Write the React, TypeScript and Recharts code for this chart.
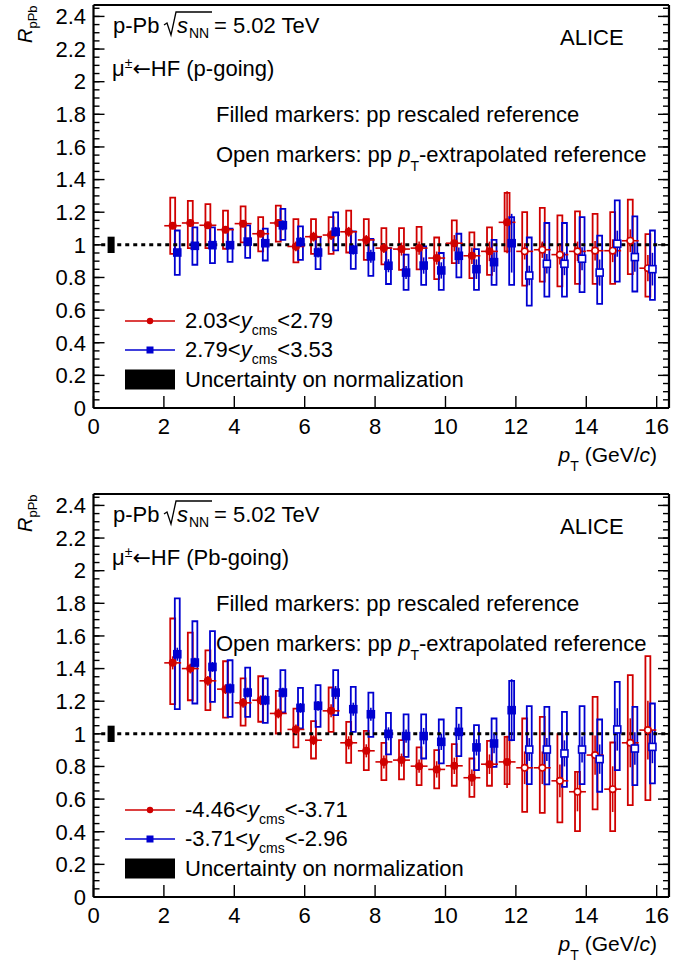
import React from "react";
import {
  ComposedChart,
  ErrorBar,
  ReferenceArea,
  ReferenceLine,
  Scatter,
  XAxis,
  YAxis,
} from "recharts";

const FONT = '"Liberation Sans", Arial, Helvetica, sans-serif';
const RED = "#d00000";
const BLUE = "#0000d0";

// pT bin centres (GeV/c); bins are 0.5 wide
const PT_BINS = [
  2.25, 2.75, 3.25, 3.75, 4.25, 4.75, 5.25, 5.75, 6.25, 6.75, 7.25, 7.75, 8.25,
  8.75, 9.25, 9.75, 10.25, 10.75, 11.25, 11.75, 12.25, 12.75, 13.25, 13.75,
  14.25, 14.75, 15.25, 15.75,
];
const BIN_HALF = 0.24;
const EXTRAP_FROM = 12; // above this the pp reference is pT-extrapolated
const NORM_PT = 0.5;
const NORM_BAND = [0.95, 1.05];

// p-going, 2.03 < y_cms < 2.79
const PG_LOW_R = [1.117, 1.134, 1.12, 1.093, 1.13, 1.068, 1.134, 0.99, 1.05, 1.06, 1.08, 1.03, 0.98, 0.974, 0.98, 0.919, 1.01, 0.933, 0.96, 1.138, 0.96, 0.97, 0.94, 0.96, 0.964, 0.964, 1.025, 0.857];
const PG_LOW_SYS_LO = [0.945, 0.98, 0.98, 0.976, 1.015, 0.96, 1.02, 0.892, 0.945, 0.945, 0.953, 0.908, 0.88, 0.847, 0.85, 0.79, 0.888, 0.796, 0.816, 0.96, 0.75, 0.775, 0.745, 0.761, 0.761, 0.761, 0.82, 0.683];
const PG_LOW_SYS_HI = [1.29, 1.27, 1.25, 1.21, 1.236, 1.17, 1.24, 1.158, 1.158, 1.17, 1.21, 1.158, 1.103, 1.103, 1.11, 1.045, 1.15, 1.076, 1.107, 1.318, 1.2, 1.226, 1.18, 1.205, 1.19, 1.2, 1.277, 1.066];
const PG_LOW_STAT = [0.02, 0.02, 0.02, 0.02, 0.02, 0.02, 0.02, 0.03, 0.03, 0.03, 0.03, 0.03, 0.03, 0.04, 0.04, 0.04, 0.05, 0.05, 0.06, 0.19, 0.05, 0.05, 0.06, 0.06, 0.06, 0.07, 0.07, 0.08];

// p-going, 2.79 < y_cms < 3.53
const PG_HIGH_R = [0.953, 0.994, 0.998, 0.998, 1.02, 1.01, 1.12, 1.017, 0.953, 1.08, 0.97, 0.93, 0.872, 0.83, 0.873, 0.843, 0.933, 0.851, 0.894, 1.01, 0.812, 0.884, 0.884, 0.915, 0.83, 1.007, 0.925, 0.851];
const PG_HIGH_SYS_LO = [0.816, 0.878, 0.888, 0.896, 0.92, 0.904, 1.03, 0.908, 0.851, 0.966, 0.853, 0.81, 0.76, 0.724, 0.755, 0.724, 0.8, 0.724, 0.755, 0.755, 0.628, 0.683, 0.683, 0.71, 0.638, 0.775, 0.714, 0.663];
const PG_HIGH_SYS_HI = [1.088, 1.107, 1.107, 1.099, 1.119, 1.099, 1.22, 1.113, 1.048, 1.199, 1.082, 1.036, 0.98, 0.94, 0.99, 0.95, 1.068, 0.974, 1.031, 1.17, 1.045, 1.134, 1.134, 1.17, 1.056, 1.273, 1.174, 1.088];
const PG_HIGH_STAT = [0.02, 0.02, 0.02, 0.02, 0.02, 0.02, 0.03, 0.03, 0.03, 0.03, 0.03, 0.04, 0.04, 0.04, 0.05, 0.05, 0.05, 0.06, 0.06, 0.18, 0.06, 0.06, 0.07, 0.07, 0.08, 0.08, 0.09, 0.1];

// Pb-going, -4.46 < y_cms < -3.71
const PB_LOW_R = [1.435, 1.4, 1.325, 1.274, 1.19, 1.206, 1.125, 1.027, 0.961, 1.141, 0.945, 0.896, 0.828, 0.839, 0.802, 0.782, 0.804, 0.731, 0.814, 0.828, 0.792, 0.792, 0.712, 0.645, 0.87, 0.661, 0.945, 1.023];
const PB_LOW_SYS_LO = [1.182, 1.206, 1.145, 1.1, 1.05, 1.074, 1.002, 0.917, 0.849, 1.012, 0.822, 0.778, 0.716, 0.721, 0.686, 0.666, 0.682, 0.614, 0.682, 0.692, 0.522, 0.516, 0.457, 0.404, 0.537, 0.404, 0.563, 0.594];
const PB_LOW_SYS_HI = [1.707, 1.62, 1.512, 1.445, 1.34, 1.353, 1.263, 1.155, 1.078, 1.284, 1.073, 1.018, 0.945, 0.961, 0.917, 0.9, 0.937, 0.849, 0.957, 0.982, 1.094, 1.104, 0.998, 0.767, 1.227, 0.947, 1.36, 1.476];
const PB_LOW_STAT = [0.04, 0.03, 0.03, 0.03, 0.03, 0.03, 0.03, 0.03, 0.03, 0.04, 0.04, 0.04, 0.04, 0.04, 0.04, 0.05, 0.05, 0.05, 0.06, 0.16, 0.1, 0.1, 0.1, 0.12, 0.12, 0.14, 0.15, 0.18];

// Pb-going, -3.71 < y_cms < -2.96
const PB_HIGH_R = [1.488, 1.437, 1.41, 1.278, 1.253, 1.206, 1.253, 1.159, 1.172, 1.253, 1.151, 1.12, 1.0, 0.986, 0.986, 0.951, 1.012, 0.917, 0.941, 1.145, 0.904, 0.904, 0.88, 0.904, 0.845, 1.027, 0.91, 0.92];
const PB_HIGH_SYS_LO = [1.151, 1.186, 1.196, 1.104, 1.104, 1.067, 1.131, 1.033, 1.043, 1.115, 1.012, 0.982, 0.874, 0.859, 0.849, 0.819, 0.863, 0.778, 0.798, 0.961, 0.692, 0.69, 0.675, 0.692, 0.645, 0.778, 0.686, 0.696];
const PB_HIGH_SYS_HI = [1.83, 1.69, 1.63, 1.451, 1.406, 1.34, 1.39, 1.282, 1.298, 1.39, 1.288, 1.253, 1.128, 1.119, 1.119, 1.088, 1.159, 1.053, 1.094, 1.325, 1.17, 1.165, 1.135, 1.17, 1.088, 1.318, 1.165, 1.186];
const PB_HIGH_STAT = [0.04, 0.03, 0.03, 0.03, 0.03, 0.03, 0.03, 0.03, 0.03, 0.04, 0.04, 0.04, 0.04, 0.04, 0.05, 0.05, 0.05, 0.05, 0.06, 0.19, 0.07, 0.07, 0.08, 0.08, 0.09, 0.13, 0.1, 0.1];

const X_MAX = 16.35;
const Y_MAX = 2.47;
const X_TICKS = [0, 2, 4, 6, 8, 10, 12, 14, 16];
const Y_TICKS = [0, 0.2, 0.4, 0.6, 0.8, 1, 1.2, 1.4, 1.6, 1.8, 2, 2.2, 2.4];
const X_MINOR = Array.from({ length: 33 }, (_, i) => i * 0.5);
const Y_MINOR = Array.from({ length: 50 }, (_, i) => Math.round(i * 5) / 100);

const HIGH_SHIFT = 0.13; // second rapidity interval drawn slightly to the right
const BOX_HALF = 0.07;
const THIN = 0.001; // axes take no room: the frame is placed by the chart margins

type Row = {
  x: number;
  y: number;
  lo: number;
  hi: number;
  stat: number;
  xe: number;
  open: boolean;
};

function buildRows(r: number[], lo: number[], hi: number[], stat: number[], shift: number): Row[] {
  return PT_BINS.map((pt, i) => ({
    x: pt + shift,
    y: r[i],
    lo: lo[i],
    hi: hi[i],
    stat: stat[i],
    xe: BIN_HALF,
    open: pt > EXTRAP_FROM,
  }));
}

const P_GOING_LOW = buildRows(PG_LOW_R, PG_LOW_SYS_LO, PG_LOW_SYS_HI, PG_LOW_STAT, 0);
const P_GOING_HIGH = buildRows(PG_HIGH_R, PG_HIGH_SYS_LO, PG_HIGH_SYS_HI, PG_HIGH_STAT, HIGH_SHIFT);
const PB_GOING_LOW = buildRows(PB_LOW_R, PB_LOW_SYS_LO, PB_LOW_SYS_HI, PB_LOW_STAT, 0);
const PB_GOING_HIGH = buildRows(PB_HIGH_R, PB_HIGH_SYS_LO, PB_HIGH_SYS_HI, PB_HIGH_STAT, HIGH_SHIFT);

const TICK_LINE = { stroke: "#000", strokeWidth: 1.4 };
const AXIS_LINE = { stroke: "#000", strokeWidth: 2.2 };
const TICK_TEXT = { fill: "#000", fontSize: 22, fontFamily: FONT };
const NoLabel = () => <g />;

const circleShape = (props: any) => {
  const { cx, cy, payload } = props;
  return (
    <circle cx={cx} cy={cy} r={3.2} fill={payload.open ? "#fff" : RED} stroke={RED} strokeWidth={1.6} />
  );
};

const squareShape = (props: any) => {
  const { cx, cy, payload } = props;
  return (
    <rect x={cx - 3.5} y={cy - 3.5} width={7} height={7} fill={payload.open ? "#fff" : BLUE} stroke={BLUE} strokeWidth={1.6} />
  );
};

type PanelProps = {
  top: number;
  height: number;
  side: string;
  low: Row[];
  high: Row[];
  lowLabel: [string, string];
  highLabel: [string, string];
};

function Panel({ top, height, side, low, high, lowLabel, highLabel }: PanelProps) {
  const box = (d: Row, i: number, color: string, key: string) => (
    <ReferenceArea
      key={`${key}${i}`}
      xAxisId="x"
      yAxisId="y"
      x1={d.x - BOX_HALF}
      x2={d.x + BOX_HALF}
      y1={d.lo}
      y2={d.hi}
      fill="none"
      fillOpacity={0}
      stroke={color}
      strokeWidth={1.8}
      ifOverflow="visible"
    />
  );
  return (
    <div style={{ position: "absolute", left: 0, top, width: 695, height }}>
      <ComposedChart width={695} height={height} margin={{ top: 5, right: 26, bottom: height - 408, left: 93.5 }}>
        <XAxis xAxisId="x" type="number" dataKey="x" domain={[0, X_MAX]} allowDataOverflow ticks={X_TICKS} interval={0} height={THIN} tickSize={-12} tickMargin={22} axisLine={AXIS_LINE} tickLine={TICK_LINE} tick={TICK_TEXT} />
        <XAxis xAxisId="xm" type="number" domain={[0, X_MAX]} allowDataOverflow ticks={X_MINOR} interval={0} height={THIN} tickSize={-6} axisLine={false} tickLine={TICK_LINE} tick={NoLabel} />
        <XAxis xAxisId="xt" orientation="top" type="number" domain={[0, X_MAX]} allowDataOverflow ticks={X_TICKS} interval={0} height={THIN} tickSize={-12} axisLine={AXIS_LINE} tickLine={TICK_LINE} tick={NoLabel} />
        <XAxis xAxisId="xtm" orientation="top" type="number" domain={[0, X_MAX]} allowDataOverflow ticks={X_MINOR} interval={0} height={THIN} tickSize={-6} axisLine={false} tickLine={TICK_LINE} tick={NoLabel} />
        <YAxis yAxisId="y" type="number" dataKey="y" domain={[0, Y_MAX]} allowDataOverflow ticks={Y_TICKS} interval={0} width={THIN} tickSize={-11} tickMargin={18.5} axisLine={AXIS_LINE} tickLine={TICK_LINE} tick={TICK_TEXT} />
        <YAxis yAxisId="ym" type="number" domain={[0, Y_MAX]} allowDataOverflow ticks={Y_MINOR} interval={0} width={THIN} tickSize={-6} axisLine={false} tickLine={TICK_LINE} tick={NoLabel} />
        <YAxis yAxisId="yr" orientation="right" type="number" domain={[0, Y_MAX]} allowDataOverflow ticks={Y_TICKS} interval={0} width={THIN} tickSize={-11} axisLine={AXIS_LINE} tickLine={TICK_LINE} tick={NoLabel} />
        <YAxis yAxisId="yrm" orientation="right" type="number" domain={[0, Y_MAX]} allowDataOverflow ticks={Y_MINOR} interval={0} width={THIN} tickSize={-6} axisLine={false} tickLine={TICK_LINE} tick={NoLabel} />

        {low.map((d, i) => box(d, i, RED, "bl"))}
        {high.map((d, i) => box(d, i, BLUE, "bh"))}

        <ReferenceArea xAxisId="x" yAxisId="y" x1={NORM_PT - 0.1} x2={NORM_PT + 0.1} y1={NORM_BAND[0]} y2={NORM_BAND[1]} fill="#000" fillOpacity={1} stroke="none" ifOverflow="visible" />
        <ReferenceLine xAxisId="x" yAxisId="y" segment={[{ x: 0.22, y: 1 }, { x: X_MAX, y: 1 }]} stroke="#000" strokeWidth={3} strokeDasharray="4 4" />

        <Scatter xAxisId="x" yAxisId="y" data={low} shape={circleShape} isAnimationActive={false}>
          <ErrorBar dataKey="stat" direction="y" width={0} stroke={RED} strokeWidth={1.6} isAnimationActive={false} />
          <ErrorBar dataKey="xe" direction="x" width={0} stroke={RED} strokeWidth={1.6} isAnimationActive={false} />
        </Scatter>
        <Scatter xAxisId="x" yAxisId="y" data={high} shape={squareShape} isAnimationActive={false}>
          <ErrorBar dataKey="stat" direction="y" width={0} stroke={BLUE} strokeWidth={1.6} isAnimationActive={false} />
        </Scatter>
      </ComposedChart>

      <svg width={695} height={height} style={{ position: "absolute", left: 0, top: 0, pointerEvents: "none" }} fontFamily={FONT} fill="#000">
        {/* y title */}
        <text transform="translate(32, 43) rotate(-90)" fontSize={20} fontStyle="italic">
          R<tspan fontSize={13} fontStyle="normal" dy={5}>pPb</tspan>
        </text>
        {/* x title */}
        <text x={657} y={462} fontSize={21} textAnchor="end">
          <tspan fontStyle="italic">p</tspan>
          <tspan fontSize={14} dy={9}>T</tspan>
          <tspan dy={-9}> (GeV/</tspan>
          <tspan fontStyle="italic">c</tspan>
          <tspan>)</tspan>
        </text>

        <text x={113} y={33} fontSize={22}>p-Pb</text>
        <path d="M164,25 L167,23 L171,35 L176,12 L212,12" fill="none" stroke="#000" strokeWidth={1.3} />
        <text x={177} y={33} fontSize={22} fontStyle="italic">s</text>
        <text x={189} y={38} fontSize={14}>NN</text>
        <text x={214} y={33} fontSize={22}>= 5.02 TeV</text>
        <text x={560} y={45} fontSize={22}>ALICE</text>
        <text x={112} y={76} fontSize={22}>
          μ<tspan fontSize={14} dy={-8}>±</tspan>
          <tspan dy={8} fontFamily='"DejaVu Sans", sans-serif'>←</tspan>
          <tspan>HF ({side}-going)</tspan>
        </text>
        <text x={216} y={122} fontSize={22}>Filled markers: pp rescaled reference</text>
        <text x={216} y={162} fontSize={22}>
          Open markers: pp <tspan fontStyle="italic">p</tspan>
          <tspan fontSize={14} dy={9}>T</tspan>
          <tspan dy={-9}>-extrapolated reference</tspan>
        </text>

        {/* legend */}
        <line x1={125} x2={175} y1={321} y2={321} stroke={RED} strokeWidth={1.6} />
        <circle cx={150} cy={321} r={3.2} fill={RED} />
        <text x={185} y={328} fontSize={22}>
          {lowLabel[0]}&lt;<tspan fontStyle="italic">y</tspan>
          <tspan fontSize={14} dy={7}>cms</tspan>
          <tspan dy={-7}>&lt;{lowLabel[1]}</tspan>
        </text>
        <line x1={125} x2={175} y1={350} y2={350} stroke={BLUE} strokeWidth={1.6} />
        <rect x={146.5} y={346.5} width={7} height={7} fill={BLUE} />
        <text x={185} y={357} fontSize={22}>
          {highLabel[0]}&lt;<tspan fontStyle="italic">y</tspan>
          <tspan fontSize={14} dy={7}>cms</tspan>
          <tspan dy={-7}>&lt;{highLabel[1]}</tspan>
        </text>
        <rect x={125} y={369.5} width={50} height={20} fill="#000" />
        <text x={185} y={387} fontSize={22}>Uncertainty on normalization</text>
      </svg>
    </div>
  );
}

export default function App() {
  return (
    <div style={{ position: "absolute", left: 0, top: 0, width: 695, height: 967, background: "#fff" }}>
      <Panel top={0} height={489} side="p" low={P_GOING_LOW} high={P_GOING_HIGH} lowLabel={["2.03", "2.79"]} highLabel={["2.79", "3.53"]} />
      <Panel top={489} height={478} side="Pb" low={PB_GOING_LOW} high={PB_GOING_HIGH} lowLabel={["-4.46", "-3.71"]} highLabel={["-3.71", "-2.96"]} />
    </div>
  );
}
